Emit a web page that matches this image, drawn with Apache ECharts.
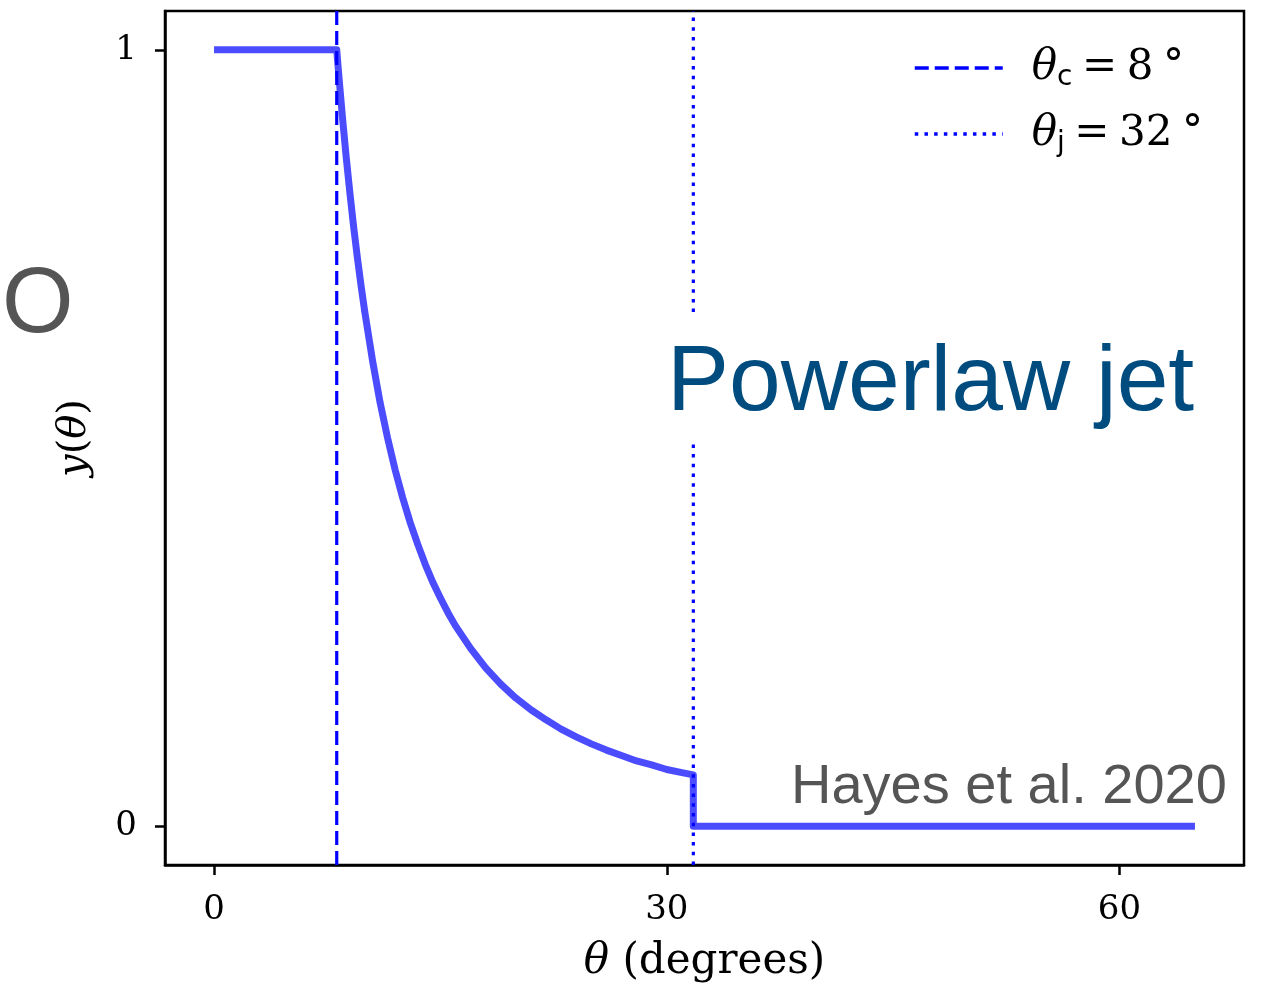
<!DOCTYPE html>
<html>
<head>
<meta charset="utf-8">
<script src="https://cdn.jsdelivr.net/npm/echarts@6/dist/echarts.min.js"></script>
<style>
html,body{margin:0;padding:0;background:#fff;}
#chart{width:1286px;height:988px;}
</style>
</head>
<body>
<div id="chart"></div>
<script>
// ---- data ----
const thetaDeg = [0, 8.13, 8.25, 8.5, 8.75, 9, 9.25, 9.5, 9.75, 10, 10.5, 11, 11.5, 12, 12.5, 13, 13.5, 14, 14.5, 15, 15.5, 16, 17, 18, 19, 20, 21, 22, 23, 24, 25, 26, 27, 28, 29, 30, 31, 31.76, 31.76, 65];
const yTheta   = [1, 1, 0.971, 0.915, 0.863, 0.816, 0.772, 0.732, 0.695, 0.661, 0.6, 0.546, 0.5, 0.459, 0.423, 0.391, 0.363, 0.337, 0.314, 0.294, 0.275, 0.258, 0.229, 0.204, 0.183, 0.165, 0.15, 0.137, 0.125, 0.115, 0.106, 0.098, 0.091, 0.084, 0.079, 0.073, 0.069, 0.066, 0, 0];
const vlineTheta = [8.13, 31.76];
const vlineLabel = ['8', '32'];
const vlineSub = ['c', 'j'];
const vlineType = ['dashed', 'dotted'];
const xTicks = [0, 30, 60];
const yTicks = [0, 1];
const xRange = [-3.25, 68.25];
const yRange = [-0.05, 1.05];

const curveData = thetaDeg.map((t, i) => [t, yTheta[i]]);
const dashPatterns = { dashed: [14, 6], dotted: [3.5, 6.2] };

const vSeries = vlineTheta.map((t, i) => ({
  name: vlineSub[i],
  type: 'line',
  data: [[t, yRange[0]], [t, yRange[1]]],
  symbol: 'none',
  silent: true,
  z: 5,
  lineStyle: { color: '#0000ff', width: 3.2, type: dashPatterns[vlineType[i]], cap: 'butt' },
  itemStyle: { color: '#0000ff' }
}));

const serif = 'DejaVu Serif';
const chart = echarts.init(document.getElementById('chart'));
chart.setOption({
  animation: false,
  backgroundColor: '#fff',
  grid: { left: 165, top: 11, right: 42, bottom: 123, show: true, borderColor: '#000', borderWidth: 2.5, backgroundColor: 'transparent' },
  xAxis: {
    type: 'value', min: xRange[0], max: xRange[1],
    splitLine: { show: false },
    axisLine: { show: true, onZero: false, lineStyle: { color: '#000', width: 2.5 } },
    axisTick: { show: true, length: 10, customValues: xTicks, lineStyle: { color: '#000', width: 2.5 } },
    axisLabel: { customValues: xTicks, margin: 28, fontFamily: serif, fontSize: 34, color: '#000' },
    name: '{i|θ} (degrees)', nameLocation: 'middle', nameGap: 76,
    nameTextStyle: { fontFamily: serif, fontSize: 42, color: '#000',
      rich: { i: { fontFamily: serif, fontStyle: 'italic', fontSize: 42, color: '#000' } } }
  },
  yAxis: {
    type: 'value', min: yRange[0], max: yRange[1],
    splitLine: { show: false },
    axisLine: { show: true, onZero: false, lineStyle: { color: '#000', width: 2.5 } },
    axisTick: { show: true, length: 10, customValues: yTicks, lineStyle: { color: '#000', width: 2.5 } },
    axisLabel: { customValues: yTicks, margin: 28, fontFamily: serif, fontSize: 34, color: '#000' },
    name: '{i|y}({i|θ})', nameLocation: 'middle', nameGap: 70, nameRotate: 90,
    nameTextStyle: { fontFamily: serif, fontSize: 40, color: '#000',
      rich: { i: { fontFamily: serif, fontStyle: 'italic', fontSize: 40, color: '#000' } } }
  },
  legend: {
    data: vlineSub,
    orient: 'vertical',
    left: 908, top: 39,
    itemWidth: 88, itemHeight: 20, itemGap: 18,
    itemStyle: { opacity: 0 },
    lineStyle: { width: 3.5 },
    formatter: function (name) {
      const i = vlineSub.indexOf(name);
      return '{th|θ}{sub|' + name + '}{sp| }{eq|=}{sp| }{eq|' + vlineLabel[i] + '}{sp| }{eq|°}';
    },
    textStyle: {
      padding: [0, 0, 0, 24],
      rich: {
        th: { fontFamily: serif, fontStyle: 'italic', fontSize: 42, color: '#000', lineHeight: 46 },
        sub: { fontFamily: 'DejaVu Sans', fontSize: 28, color: '#000', lineHeight: 46, padding: [20, 0, 0, 0] },
        sp: { fontFamily: serif, fontSize: 30, lineHeight: 46 },
        eq: { fontFamily: serif, fontSize: 42, color: '#000', lineHeight: 46 }
      }
    }
  },
  graphic: [
    { type: 'text', z: 100, left: 2, top: 261, style: { text: 'O', font: '92px "Liberation Sans"', fill: '#555555' } },
    { type: 'rect', z: 90, shape: { x: 655, y: 316, width: 560, height: 128 }, style: { fill: '#ffffff' } },
    { type: 'text', z: 100, left: 667, top: 338, style: { text: 'Powerlaw jet', font: '93px "Liberation Sans"', fill: '#004c7f' } },
    { type: 'text', z: 100, left: 791, top: 760, style: { text: 'Hayes et al. 2020', font: '56px "Liberation Sans"', fill: '#555555' } }
  ],
  series: [
    {
      name: 'curve', type: 'line', data: curveData, symbol: 'none', silent: true, z: 3,
      lineStyle: { color: 'rgba(0,0,255,0.7)', width: 7, cap: 'butt', join: 'round' }
    }
  ].concat(vSeries)
});
</script>
</body>
</html>
